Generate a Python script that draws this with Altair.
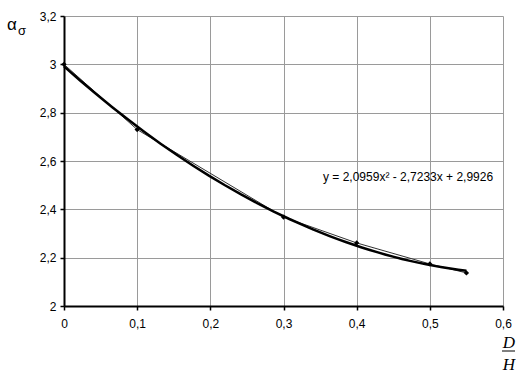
import altair as alt
import pandas as pd

x_vals = [0.0, 0.1, 0.3, 0.4, 0.5, 0.55]
y_vals = [3.0, 2.73, 2.368, 2.261, 2.174, 2.137]
equation = "y = 2,0959x² - 2,7233x + 2,9926"

df = pd.DataFrame({"x": x_vals, "y": y_vals})

W, H = 439, 290
FONT = "Liberation Sans"
label_expr = "replace(format(datum.value, '.1~f'), '.', ',')"

xscale = alt.Scale(domain=[0, 0.6], nice=False, zero=False)
yscale = alt.Scale(domain=[2, 3.2], nice=False, zero=False)

xaxis = alt.Axis(values=[0, 0.1, 0.2, 0.3, 0.4, 0.5, 0.6], labelExpr=label_expr,
                 title=None, grid=True, gridColor="#9a9a9a", gridWidth=1,
                 domainColor="black", domainWidth=2, tickColor="black", tickSize=4,
                 tickWidth=1.5, labelFont=FONT, labelFontSize=12, labelColor="black",
                 labelPadding=8, labelFlush=False)
yaxis = alt.Axis(values=[2, 2.2, 2.4, 2.6, 2.8, 3.0, 3.2], labelExpr=label_expr,
                 title=None, grid=True, gridColor="#9a9a9a", gridWidth=1,
                 domainColor="black", domainWidth=2, tickColor="black", tickSize=4,
                 tickWidth=1.5, labelFont=FONT, labelFontSize=12, labelColor="black",
                 labelPadding=4, labelFlush=False)

base = alt.Chart(df)

thin = base.mark_line(color="#333333", strokeWidth=1).encode(
    x=alt.X("x:Q", scale=xscale, axis=xaxis),
    y=alt.Y("y:Q", scale=yscale, axis=yaxis),
)

trend = base.transform_regression(
    "x", "y", method="poly", order=2, extent=[0, 0.55]
).mark_line(color="black", strokeWidth=2.5).encode(
    x=alt.X("x:Q", scale=xscale),
    y=alt.Y("y:Q", scale=yscale),
)

pts = base.mark_point(shape="diamond", filled=True, color="black", size=28, opacity=1).encode(
    x=alt.X("x:Q", scale=xscale),
    y=alt.Y("y:Q", scale=yscale),
)

eq = alt.Chart(pd.DataFrame({"t": [equation]})).mark_text(
    font=FONT, fontSize=12, align="left", baseline="alphabetic", color="black").encode(
    x=alt.value(259), y=alt.value(165), text="t:N")

alpha = alt.Chart(pd.DataFrame({"t": ["α"]})).mark_text(
    font=FONT, fontSize=17, align="left", baseline="alphabetic", color="black").encode(
    x=alt.value(-57), y=alt.value(14), text="t:N")
sigma = alt.Chart(pd.DataFrame({"t": ["σ"]})).mark_text(
    font=FONT, fontSize=13, align="left", baseline="alphabetic", color="black").encode(
    x=alt.value(-46), y=alt.value(19), text="t:N")

dlab = alt.Chart(pd.DataFrame({"t": ["D"]})).mark_text(
    font="Liberation Serif", fontStyle="italic", fontSize=17, align="center",
    baseline="alphabetic", color="black").encode(
    x=alt.value(445), y=alt.value(332), text="t:N")
frac = alt.Chart(pd.DataFrame({"a": [0]})).mark_rule(color="black", strokeWidth=1).encode(
    x=alt.value(438), x2=alt.value(451), y=alt.value(335))
hlab = alt.Chart(pd.DataFrame({"t": ["H"]})).mark_text(
    font="Liberation Serif", fontStyle="italic", fontSize=17, align="center",
    baseline="alphabetic", color="black").encode(
    x=alt.value(445), y=alt.value(354), text="t:N")

chart = alt.layer(thin, trend, pts, eq, alpha, sigma, dlab, frac, hlab).properties(
    width=W, height=H,
    autosize=alt.AutoSizeParams(type="none"),
    padding={"left": 64, "top": 16, "right": 13, "bottom": 67},
    background="white",
).configure_view(stroke=None)

chart.save("out.html", embed_options={"renderer": "svg", "actions": False})
